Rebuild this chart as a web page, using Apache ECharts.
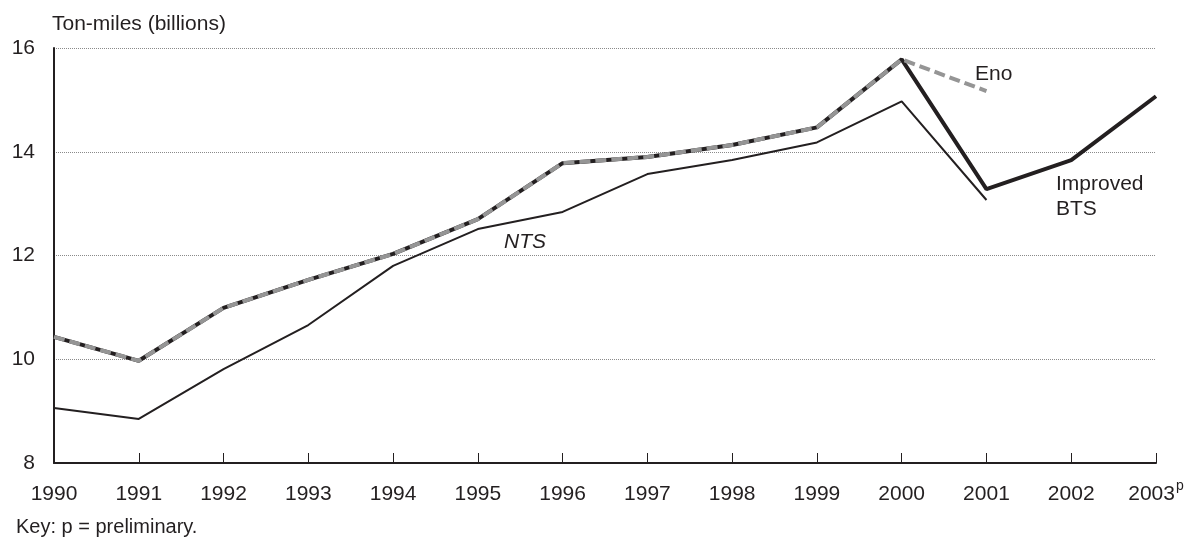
<!DOCTYPE html>
<html>
<head>
<meta charset="utf-8">
<script src="https://cdn.jsdelivr.net/npm/echarts@6/dist/echarts.min.js"></script>
<style>
  html, body { margin: 0; padding: 0; background: #fff; }
  #chart { width: 1188px; height: 538px; }
</style>
</head>
<body>
<div id="chart"></div>
<script>
// years on the x axis
const years = ['1990', '1991', '1992', '1993', '1994', '1995', '1996',
  '1997', '1998', '1999', '2000', '2001', '2002', '2003'];

// ton-miles, billions
const improvedBts = [10.43, 9.97, 10.99, 11.53, 12.03, 12.70, 13.78,
  13.90, 14.13, 14.47, 15.78, 13.28, 13.84, 15.07];
const eno = [10.43, 9.97, 10.99, 11.53, 12.03, 12.70, 13.78,
  13.90, 14.13, 14.47, 15.78, 15.17, null, null];
const nts = [9.06, 8.85, 9.81, 10.66, 11.80, 12.51, 12.84,
  13.57, 13.84, 14.18, 14.97, 13.07, null, null];

const yTicks = { min: 8, max: 16, step: 2 };

const ink = '#231f20';
const font = 'Liberation Sans, Arial, Helvetica, sans-serif';

const chart = echarts.init(document.getElementById('chart'));

const option = {
  animation: false,
  backgroundColor: '#fff',
  textStyle: { fontFamily: font, color: ink },
  title: {
    text: 'Ton-miles (billions)',
    left: 47,
    top: 9,
    textStyle: { fontFamily: font, fontSize: 21, fontWeight: 'normal', color: ink }
  },
  grid: { left: 54, right: 32, top: 48, bottom: 75, containLabel: false },
  xAxis: {
    type: 'category',
    data: years,
    boundaryGap: false,
    axisLine: { lineStyle: { color: ink, width: 2 } },
    axisTick: { inside: true, length: 10, interval: 0, lineStyle: { color: ink, width: 1 } },
    axisLabel: {
      color: ink,
      fontSize: 21,
      fontFamily: font,
      margin: 16,
      interval: 0,
      formatter: function (v) {
        // 2003 is preliminary, marked with a raised p
        return v === '2003' ? '{n|' + v + '}{sup|p}' : '{n|' + v + '}';
      },
      rich: {
        n: { fontSize: 21, fontFamily: font, color: ink, lineHeight: 30 },
        sup: { fontSize: 14, fontFamily: font, color: ink, lineHeight: 10, verticalAlign: 'top', padding: [0, 0, 0, 1] }
      }
    },
    splitLine: { show: false }
  },
  yAxis: {
    type: 'value',
    min: yTicks.min,
    max: yTicks.max,
    interval: yTicks.step,
    axisLine: { show: true, lineStyle: { color: ink, width: 2 } },
    axisTick: { show: false },
    axisLabel: { color: ink, fontSize: 21, fontFamily: font, margin: 19 },
    splitLine: { show: true, lineStyle: { type: 'dotted', color: '#8a8a8a', width: 1 } }
  },
  series: [
    {
      name: 'NTS',
      type: 'line',
      data: nts,
      symbol: 'none',
      lineStyle: { color: ink, width: 2 },
      z: 2
    },
    {
      name: 'Improved BTS',
      type: 'line',
      data: improvedBts,
      symbol: 'none',
      lineStyle: { color: ink, width: 4 },
      z: 3
    },
    {
      name: 'Eno',
      type: 'line',
      data: eno,
      symbol: 'none',
      lineStyle: { color: '#959595', width: 4, type: [11, 5] },
      z: 4
    }
  ],
  graphic: [
    { type: 'text', left: 975, top: 64, style: { text: 'Eno', font: '21px ' + font, fill: ink } },
    { type: 'text', left: 1056, top: 172, style: { text: 'Improved\nBTS', font: '21px ' + font, fill: ink, lineHeight: 25 } },
    { type: 'text', left: 504, top: 232, style: { text: 'NTS', font: 'italic 21px ' + font, fill: ink } },
    { type: 'text', left: 16, top: 517, style: { text: 'Key: p = preliminary.', font: '20px ' + font, fill: ink } }
  ]
};

chart.setOption(option);
</script>
</body>
</html>
